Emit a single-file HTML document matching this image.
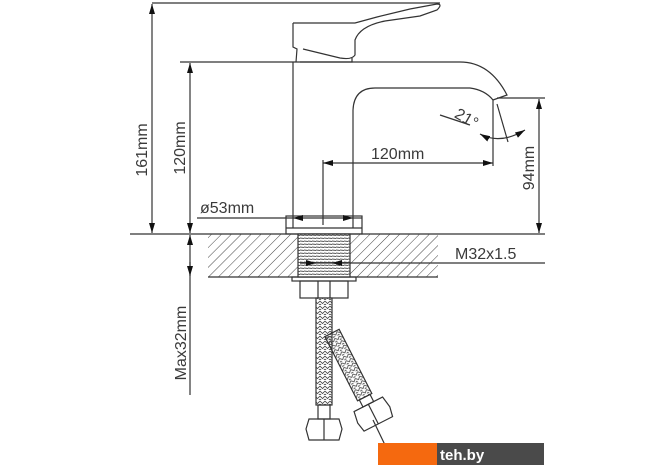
<!DOCTYPE html>
<html><head><style>
html,body{margin:0;padding:0;background:#fff;}
svg{display:block;}
text{font-family:"Liberation Sans",sans-serif;fill:#3a3a3a;}
</style></head><body>
<svg width="670" height="471" viewBox="0 0 670 471" xmlns="http://www.w3.org/2000/svg">
<defs>
<pattern id="hat" width="7" height="7" patternUnits="userSpaceOnUse" patternTransform="rotate(45)">
<line x1="0" y1="0" x2="0" y2="7" stroke="#444" stroke-width="1"/>
</pattern>
<pattern id="thr" width="4" height="3" patternUnits="userSpaceOnUse">
<line x1="0" y1="1" x2="4" y2="1.5" stroke="#555" stroke-width="0.9"/>
</pattern>
<pattern id="brd" width="5" height="5" patternUnits="userSpaceOnUse">
<path d="M0 1 L2.5 3.5 L5 1 M0 4 L2.5 6.5 L5 4" fill="none" stroke="#444" stroke-width="0.8"/>
</pattern>
<marker id="a" viewBox="0 0 10 6" refX="10" refY="3" markerWidth="10" markerHeight="6" orient="auto-start-reverse" markerUnits="userSpaceOnUse">
<path d="M0 0 L10 3 L0 6z" fill="#111"/>
</marker>
</defs>
<g stroke="#333" stroke-width="1.2" fill="none">
<line x1="152" y1="3" x2="440" y2="3"/>
<line x1="152" y1="4" x2="152" y2="233" marker-start="url(#a)" marker-end="url(#a)"/>
<line x1="180" y1="62" x2="293" y2="62"/>
<line x1="190" y1="63" x2="190" y2="233" marker-start="url(#a)" marker-end="url(#a)"/>
<line x1="130" y1="234" x2="545" y2="234"/>
<path d="M293 23 L293 47 L297 49 L296 62 M293 23 L355 23 L377 17 L410 9 L437 4 Q443 4 437 10 L420 16 L385 21 Q360 26 355 40 L355 55 Q352 60 340 58 L303 49"/>
<path d="M300 62 L352 62 L352 58"/>
<path d="M293 62 L293 228 M293 62 L460 62 Q490 62 507 95 L493 100 Q485 90 470 88 L375 88 Q354 88 353 110 L353 228"/>
<rect x="286" y="216" width="76" height="18"/>
<line x1="286" y1="228" x2="362" y2="228"/>
<line x1="197" y1="218" x2="293" y2="218"/>
<line x1="293" y1="218" x2="353" y2="218" marker-start="url(#a)" marker-end="url(#a)"/>
<line x1="353" y1="218" x2="362" y2="218"/>
<line x1="323" y1="160" x2="323" y2="225"/>
<line x1="323" y1="163" x2="493" y2="163" marker-start="url(#a)" marker-end="url(#a)"/>
<line x1="493" y1="100" x2="493" y2="166"/>
<line x1="497" y1="98" x2="545" y2="98"/>
<line x1="539" y1="99" x2="539" y2="233" marker-start="url(#a)" marker-end="url(#a)"/>
<line x1="497" y1="104" x2="508" y2="142"/>
<line x1="440" y1="115" x2="470" y2="125"/>
<path d="M480 134 Q500 145 525 130" marker-start="url(#a)" marker-end="url(#a)"/>
<rect x="208" y="234" width="230" height="43" fill="url(#hat)" stroke="none"/>
<line x1="208" y1="277" x2="438" y2="277"/>
<rect x="298" y="234" width="52" height="43" fill="#fff" stroke="none"/>
<rect x="298" y="234" width="52" height="43" fill="url(#thr)"/>
<line x1="300" y1="263" x2="545" y2="263"/>
<line x1="300" y1="263" x2="316" y2="263" marker-end="url(#a)"/>
<line x1="348" y1="263" x2="332" y2="263" marker-end="url(#a)"/>
<line x1="190" y1="235" x2="190" y2="395" marker-start="url(#a)"/>
<line x1="190" y1="262" x2="190" y2="276" marker-end="url(#a)"/>
<rect x="292" y="277" width="64" height="4"/>
<rect x="300" y="281" width="48" height="17"/>
<line x1="318" y1="281" x2="318" y2="298"/><line x1="330" y1="281" x2="330" y2="298"/>
<rect x="316" y="298" width="16" height="107" fill="url(#brd)"/>
<g transform="translate(332 333) rotate(-27)">
<rect x="-8" y="0" width="16" height="72" fill="url(#brd)"/>
<rect x="-6" y="72" width="12" height="8"/>
<path d="M-16 80 L16 80 L18 92 L16 102 L-16 102 L-18 92Z"/>
<line x1="0" y1="80" x2="0" y2="102"/>
</g>
<rect x="318" y="405" width="12" height="14"/>
<path d="M309 419 L339 419 L342 429 L339 440 L309 440 L306 429Z"/>
<line x1="324" y1="419" x2="324" y2="440"/>
<line x1="373" y1="420" x2="385" y2="445"/>
</g>
<g font-size="16">
<text transform="translate(147 150) rotate(-90)" text-anchor="middle">161mm</text>
<text transform="translate(185 148) rotate(-90)" text-anchor="middle">120mm</text>
<text x="200" y="213">ø53mm</text>
<text x="371" y="159">120mm</text>
<text transform="translate(534 168) rotate(-90)" text-anchor="middle">94mm</text>
<text x="455" y="121" transform="rotate(30 462 116)">21°</text>
<text x="455" y="259">M32x1.5</text>
<text transform="translate(186 343) rotate(-90)" text-anchor="middle">Max32mm</text>
</g>
<rect x="378" y="443" width="59" height="22" fill="#f5690f"/>
<rect x="437" y="443" width="107" height="22" fill="#4a4a4a"/>
<text x="440" y="460" font-size="15" font-weight="bold" style="fill:#fff">teh.by</text>
</svg>
</body></html>
